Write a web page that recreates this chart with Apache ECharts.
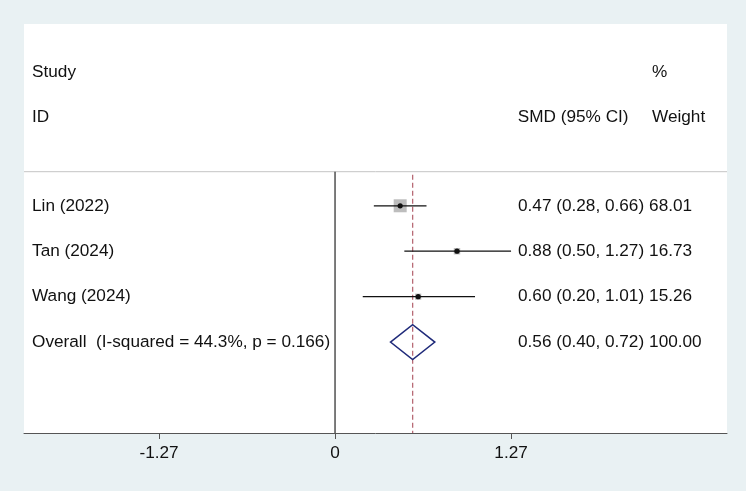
<!DOCTYPE html>
<html>
<head>
<meta charset="utf-8">
<script src="https://cdn.jsdelivr.net/npm/echarts@6/dist/echarts.min.js"></script>
<style>
  html, body { margin: 0; padding: 0; }
  #chart { width: 746px; height: 491px; }
</style>
</head>
<body>
<div id="chart"></div>
<script>
// study rows
const studies = ['Lin (2022)', 'Tan (2024)', 'Wang (2024)']
const smd = [0.47, 0.88, 0.60]
const lower = [0.28, 0.50, 0.20]
const upper = [0.66, 1.27, 1.01]
const weights = [68.01, 16.73, 15.26]

// pooled estimate
const overallLabel = 'Overall  (I-squared = 44.3%, p = 0.166)'
const overallSmd = 0.56
const overallLower = 0.40
const overallUpper = 0.72
const overallWeight = 100.00

const xTicks = [-1.27, 0, 1.27]

// layout (axis units)
const colLabel = -2.186
const colCi = 1.32
const colWeight = 2.266
const colCiHeadRight = 2.118
const colWeightHead = 2.287
const rowStudyHead = -1.94
const rowIdHead = -0.95
const sepRow = 0.25
const font = '"Liberation Sans", Arial, sans-serif'
const fontSize = 17.2

const ciText = (e, l, u) => `${e.toFixed(2)} (${l.toFixed(2)}, ${u.toFixed(2)})`

const textRows = studies.map((s, i) => ({
  row: i + 1, label: s, ci: ciText(smd[i], lower[i], upper[i]), weight: weights[i].toFixed(2)
}))
textRows.push({
  row: studies.length + 1,
  label: overallLabel,
  ci: ciText(overallSmd, overallLower, overallUpper),
  weight: overallWeight.toFixed(2)
})

const chart = echarts.init(document.getElementById('chart'))

function txt(x, y, text, align) {
  return {
    type: 'text', x, y,
    style: { text, fill: '#111', fontSize, fontFamily: font, align: align || 'left', verticalAlign: 'middle' }
  }
}

chart.setOption({
  animation: false,
  backgroundColor: '#e9f1f3',
  grid: {
    left: 24, right: 19, top: 24, bottom: 58,
    show: true, backgroundColor: '#fff', borderWidth: 0
  },
  xAxis: {
    type: 'value',
    min: -2.244,
    max: 2.828,
    splitLine: { show: false },
    axisLine: { onZero: false, lineStyle: { color: '#555', width: 1 } },
    axisTick: { customValues: xTicks, length: 6, lineStyle: { color: '#555' } },
    axisLabel: {
      customValues: xTicks, color: '#111', fontSize, fontFamily: font, margin: 12,
      formatter: v => (v === 0 ? '0' : String(v))
    }
  },
  yAxis: { type: 'value', min: -3, max: 6, inverse: true, show: false },
  series: [
    {
      // separator, null line, pooled line
      type: 'custom',
      silent: true,
      data: [[0]],
      renderItem(params, api) {
        const a = api.coord([-2.244, sepRow])
        const b = api.coord([2.828, sepRow])
        const z0 = api.coord([0, sepRow])
        const z1 = api.coord([0, 6])
        const d0 = api.coord([overallSmd, sepRow])
        const d1 = api.coord([overallSmd, 6])
        return {
          type: 'group',
          children: [
            { type: 'line', shape: { x1: a[0], y1: a[1], x2: b[0], y2: b[1] }, style: { stroke: '#c4c4c4', lineWidth: 1 } },
            { type: 'line', shape: { x1: z0[0], y1: z0[1], x2: z1[0], y2: z1[1] }, style: { stroke: '#111', lineWidth: 1.1 } },
            { type: 'line', shape: { x1: d0[0], y1: d0[1] + 3, x2: d1[0], y2: d1[1] }, style: { stroke: '#b86b76', lineWidth: 1.3, lineDash: [5, 3] } }
          ]
        }
      }
    },
    {
      // study estimates
      type: 'custom',
      silent: true,
      data: studies.map((s, i) => [smd[i], lower[i], upper[i], weights[i], i + 1]),
      renderItem(params, api) {
        const row = api.value(4)
        const p = api.coord([api.value(0), row])
        const l = api.coord([api.value(1), row])
        const u = api.coord([api.value(2), row])
        const size = 13 * Math.sqrt(api.value(3) / Math.max(...weights))
        return {
          type: 'group',
          children: [
            { type: 'rect', shape: { x: p[0] - size / 2, y: p[1] - size / 2, width: size, height: size }, style: { fill: '#bdbdbd' } },
            { type: 'line', shape: { x1: l[0], y1: l[1], x2: u[0], y2: u[1] }, style: { stroke: '#111', lineWidth: 1.2 } },
            { type: 'circle', shape: { cx: p[0], cy: p[1], r: 2.6 }, style: { fill: '#111' } }
          ]
        }
      }
    },
    {
      // pooled diamond
      type: 'custom',
      silent: true,
      data: [[overallSmd, overallLower, overallUpper, studies.length + 1]],
      renderItem(params, api) {
        const row = api.value(3)
        const h = 0.385
        const pts = [
          api.coord([api.value(1), row]),
          api.coord([api.value(0), row - h]),
          api.coord([api.value(2), row]),
          api.coord([api.value(0), row + h])
        ]
        return { type: 'polygon', shape: { points: pts }, style: { fill: 'none', stroke: '#1f2a7a', lineWidth: 1.5 } }
      }
    },
    {
      // text columns
      type: 'custom',
      silent: true,
      data: [[0]],
      renderItem(params, api) {
        const at = (x, y) => api.coord([x, y])
        const children = [
          txt(...at(colLabel, rowStudyHead), 'Study'),
          txt(...at(colLabel, rowIdHead), 'ID'),
          txt(...at(colCiHeadRight, rowIdHead), 'SMD (95% CI)', 'right'),
          txt(...at(colWeightHead, rowStudyHead), '%'),
          txt(...at(colWeightHead, rowIdHead), 'Weight')
        ]
        textRows.forEach(r => {
          children.push(txt(...at(colLabel, r.row), r.label))
          children.push(txt(...at(colCi, r.row), r.ci))
          children.push(txt(...at(colWeight, r.row), r.weight))
        })
        return { type: 'group', children }
      }
    }
  ]
})
</script>
</body>
</html>
